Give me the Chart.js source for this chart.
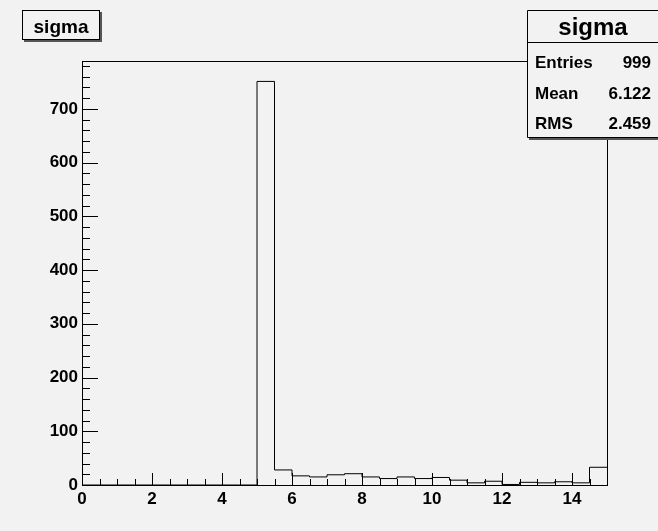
<!DOCTYPE html>
<html>
<head>
<meta charset="UTF-8">
<title>sigma</title>
<script src="https://cdn.jsdelivr.net/npm/chart.js"></script>
<style>
  html, body { margin: 0; padding: 0; background: #f2f2f2; }
  canvas { display: block; }
</style>
</head>
<body>
<canvas id="hist" width="658" height="531"></canvas>
<script>
// histogram "sigma": 30 bins of 0.5 from 0 to 15
const binEdges = [0, 0.5, 1, 1.5, 2, 2.5, 3, 3.5, 4, 4.5, 5, 5.5, 6, 6.5, 7, 7.5,
  8, 8.5, 9, 9.5, 10, 10.5, 11, 11.5, 12, 12.5, 13, 13.5, 14, 14.5, 15];
const binCounts = [0, 0, 0, 0, 0, 0, 0, 0, 0, 0, 751, 28, 17, 15, 19, 21,
  15, 12, 15, 12, 14, 9, 4, 7, 1, 5, 4, 6, 4, 33];
const xTickLabels = [0, 2, 4, 6, 8, 10, 12, 14];
const yTickLabels = [0, 100, 200, 300, 400, 500, 600, 700];
const statNames = ["Entries", "Mean", "RMS"];
const statValues = ["999", "6.122", "2.459"];
const histTitle = "sigma";

const FONT = "'Liberation Sans', Arial, Helvetica, sans-serif";
const BG = "#f2f2f2";

// point i carries the count of the bin that starts at edge i
const points = binEdges.map((e, i) => ({ x: e, y: binCounts[Math.min(i, binCounts.length - 1)] }));

// ROOT style frame, inner ticks and boxes
const rootDecor = {
  id: "rootDecor",
  afterDatasetsDraw(chart) {
    const ctx = chart.ctx;
    const a = chart.chartArea;
    const xs = chart.scales.x, ys = chart.scales.y;
    ctx.save();
    ctx.strokeStyle = "#000";
    ctx.lineWidth = 1;
    ctx.strokeRect(Math.round(a.left) + 0.5, Math.round(a.top) + 0.5,
      Math.round(a.right - a.left), Math.round(a.bottom - a.top));

    ctx.beginPath();
    for (let v = 0.5; v < 15; v += 0.5) {
      const px = Math.round(xs.getPixelForValue(v)) + 0.5;
      const len = (v % 2 === 0) ? 12 : 6;
      ctx.moveTo(px, a.bottom);
      ctx.lineTo(px, a.bottom - len);
    }
    for (let v = 20; v < ys.max; v += 20) {
      const py = Math.round(ys.getPixelForValue(v)) + 0.5;
      const len = (v % 100 === 0) ? 16 : 8;
      ctx.moveTo(a.left, py);
      ctx.lineTo(a.left + len, py);
    }
    ctx.stroke();

    // title box
    ctx.fillStyle = "#555";
    ctx.fillRect(100, 12, 2, 30);
    ctx.fillRect(24, 40, 78, 2);
    ctx.fillStyle = BG;
    ctx.fillRect(22, 10, 78, 30);
    ctx.strokeRect(22.5, 10.5, 77, 29);
    ctx.fillStyle = "#000";
    ctx.font = "bold 19px " + FONT;
    ctx.textAlign = "center";
    ctx.textBaseline = "alphabetic";
    ctx.fillText(histTitle, 61, 33);

    // stats box
    ctx.fillStyle = "#555";
    ctx.fillRect(529, 138, 129, 2);
    ctx.fillStyle = BG;
    ctx.fillRect(527, 10, 131, 128);
    ctx.beginPath();
    ctx.moveTo(527.5, 10.5); ctx.lineTo(658, 10.5);
    ctx.moveTo(527.5, 10.5); ctx.lineTo(527.5, 137.5);
    ctx.lineTo(658, 137.5);
    ctx.moveTo(527.5, 42.5); ctx.lineTo(658, 42.5);
    ctx.stroke();
    ctx.fillStyle = "#000";
    ctx.font = "bold 24px " + FONT;
    ctx.fillText(histTitle, 593, 35);
    ctx.font = "bold 17px " + FONT;
    const rows = [68, 99, 129];
    statNames.forEach((n, i) => {
      ctx.textAlign = "left";
      ctx.fillText(n, 535, rows[i]);
      ctx.textAlign = "right";
      ctx.fillText(statValues[i], 651, rows[i]);
    });
    ctx.restore();
  }
};

new Chart(document.getElementById("hist"), {
  type: "line",
  data: {
    datasets: [{
      label: histTitle,
      data: points,
      stepped: true,
      borderColor: "#000",
      borderWidth: 1,
      pointRadius: 0,
      fill: false
    }]
  },
  options: {
    responsive: false,
    animation: false,
    layout: { padding: { top: 61, right: 51, left: 0, bottom: 0 } },
    plugins: { legend: { display: false }, tooltip: { enabled: false } },
    scales: {
      x: {
        type: "linear",
        min: 0,
        max: 15,
        afterFit(s) { s.height = 46; },
        afterBuildTicks(s) { s.ticks = xTickLabels.map(v => ({ value: v })); },
        grid: { display: false, drawTicks: false },
        border: { display: false },
        ticks: { padding: 4, color: "#000", maxRotation: 0, autoSkip: false,
          font: { family: FONT, size: 17, weight: "bold" } }
      },
      y: {
        type: "linear",
        min: 0,
        max: 789,
        afterFit(s) { s.width = 82; },
        afterBuildTicks(s) { s.ticks = yTickLabels.map(v => ({ value: v })); },
        grid: { display: false, drawTicks: false },
        border: { display: false },
        ticks: { padding: 4, color: "#000", autoSkip: false,
          font: { family: FONT, size: 17, weight: "bold" } }
      }
    }
  },
  plugins: [rootDecor]
});
</script>
</body>
</html>
